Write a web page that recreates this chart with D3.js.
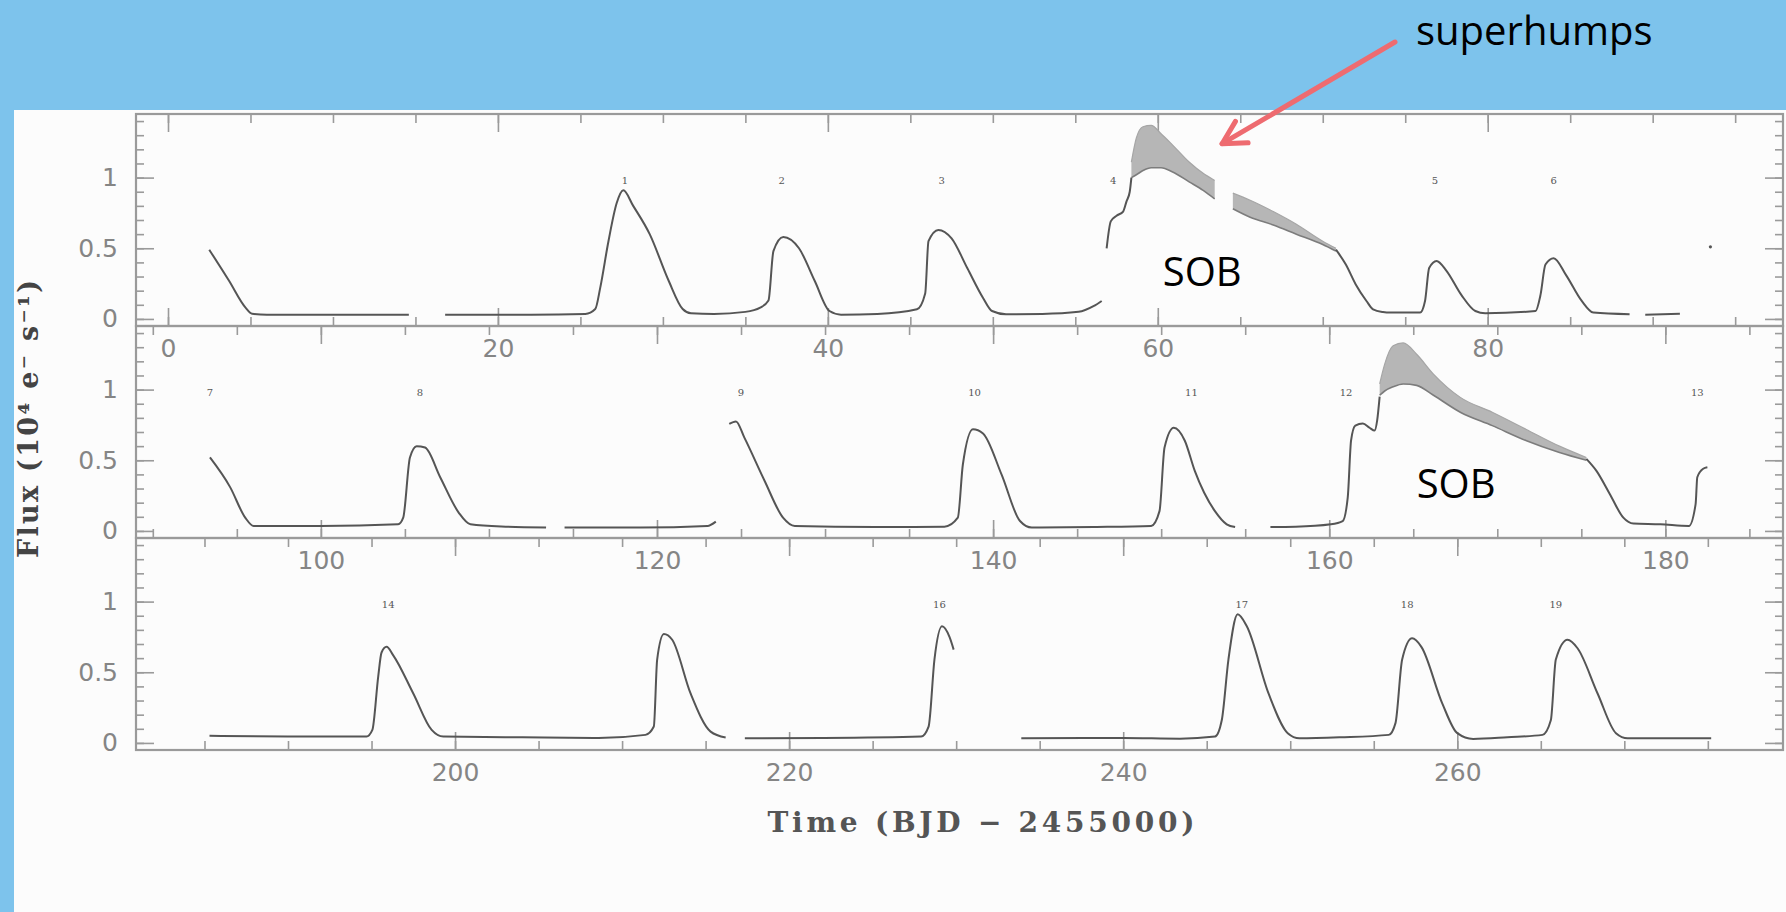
<!DOCTYPE html>
<html>
<head>
<meta charset="utf-8">
<script src="https://cdn.jsdelivr.net/npm/d3@7"></script>
<style>
  body { margin: 0; background: #7dc3ec; }
  svg { display: block; }
</style>
</head>
<body>
<svg id="drawing_region"></svg>
<script>
// ---- data (time in BJD-2455000, flux in 10^4 e/s) ----
const flux_domain = [-0.05, 1.45];
const flux_labels = [0, 0.5, 1];
const panel_time_domains = [[-1.94, 97.9], [89.0, 187.0], [180.9, 279.5]];
const panel_time_labels = [[0, 20, 40, 60, 80], [100, 120, 140, 160, 180], [200, 220, 240, 260]];

const panel1_segments = [
    [[2.5,0.49],[3.7,0.27],[4.7,0.08],[5.1,0.037],[6,0.03],[10,0.03],[14.6,0.03]],
    [[16.8,0.03],[22,0.03],[25.3,0.035],[25.9,0.07],[26.2,0.22],[26.7,0.55],[27.2,0.82],[27.6,0.91],
     [28.2,0.8],[29.2,0.6],[30.35,0.27],[31.2,0.07],[31.7,0.04],[33.1,0.035],[35.0,0.05],[35.9,0.08],
     [36.4,0.13],[36.7,0.48],[37.3,0.58],[38.25,0.5],[39.2,0.27],[40.1,0.056],[40.8,0.03],[43,0.035],
     [45.4,0.068],[45.9,0.18],[46.1,0.55],[46.7,0.63],[47.5,0.57],[48.45,0.36],[49.4,0.15],[49.95,0.056],
     [50.8,0.033],[53,0.035],[55.2,0.05],[56.1,0.09],[56.6,0.127]],
    [[56.9,0.5],[57.15,0.69],[57.5,0.73],[57.9,0.76],[58.1,0.83],[58.3,0.9],[58.4,1.0]],
    [[70.8,0.49],[71.4,0.385],[72.0,0.244],[72.65,0.127],[73.05,0.068],[73.65,0.049],[74.1,0.045],
     [75.9,0.045],[76.2,0.127],[76.45,0.36],[76.9,0.41],[77.5,0.34],[78.4,0.17],[79.25,0.056],
     [79.85,0.04],[82.9,0.056],[83.2,0.17],[83.5,0.385],[84.0,0.43],[84.75,0.31],[85.7,0.127],
     [86.4,0.045],[88.6,0.033]],
    [[89.55,0.03],[91.65,0.037]]
];
const panel2_segments = [
    [[93.4,0.52],[94.6,0.31],[95.5,0.094],[96.0,0.035],[100,0.035],[104.6,0.047],[104.9,0.094],
     [105.3,0.52],[105.7,0.6],[106.2,0.59],[107.1,0.38],[108.2,0.13],[108.9,0.047],[111,0.03],[113.4,0.024]],
    [[114.5,0.024],[119,0.024],[123.0,0.035],[123.5,0.066]],
    [[124.3,0.757],[124.7,0.775],[125.2,0.66],[126.4,0.355],[127.5,0.094],[128.2,0.035],[133,0.028],
     [137.1,0.03],[137.9,0.094],[138.2,0.47],[138.8,0.72],[139.4,0.69],[140.5,0.4],[141.6,0.07],
     [142.3,0.024],[146,0.028],[149.4,0.035],[149.9,0.14],[150.2,0.59],[150.75,0.73],[151.4,0.64],
     [152.0,0.425],[153.2,0.14],[153.9,0.047],[154.4,0.028]],
    [[156.5,0.028],[158,0.03],[160.1,0.047],[160.8,0.07],[161.1,0.236],[161.3,0.64],[161.55,0.745],
     [162.0,0.76],[162.4,0.73],[162.7,0.71],[162.85,0.78],[163.0,0.95]],
    [[175.3,0.51],[175.9,0.425],[176.7,0.26],[177.5,0.094],[178.1,0.052],[179.7,0.047],[181.4,0.035],
     [181.8,0.19],[181.9,0.38],[182.25,0.44],[182.5,0.45]]
];
const panel3_segments = [
    [[185.3,0.05],[190,0.045],[194.7,0.045],[195.05,0.092],[195.4,0.47],[195.6,0.64],[195.9,0.68],
     [196.3,0.62],[197.5,0.35],[198.6,0.092],[199.3,0.045],[204,0.04],[208.6,0.035],[211.4,0.057],
     [211.9,0.116],[212.1,0.59],[212.5,0.77],[213.0,0.73],[214.1,0.35],[215.3,0.08],[216.2,0.038]],
    [[217.35,0.033],[222,0.035],[227.9,0.045],[228.35,0.116],[228.7,0.59],[229.15,0.825],[229.6,0.75],[229.85,0.66]],
    [[233.9,0.033],[240,0.035],[243.4,0.03],[245.5,0.045],[245.9,0.16],[246.3,0.59],[246.85,0.91],
     [247.4,0.825],[248.7,0.35],[249.85,0.069],[250.55,0.033],[253,0.04],[255.9,0.057],[256.3,0.14],
     [256.7,0.59],[257.3,0.74],[257.85,0.68],[259.1,0.28],[260.0,0.069],[260.95,0.028],[263,0.04],
     [265.1,0.057],[265.6,0.16],[265.9,0.59],[266.6,0.73],[267.2,0.67],[268.4,0.35],[269.5,0.069],
     [270.2,0.033],[275.2,0.033]]
];

// superhump bands: [time, lower envelope, upper envelope]
const panel1_bands = [
    [[58.4,1.0,1.11],[58.7,1.02,1.28],[59.1,1.05,1.36],[59.6,1.07,1.37],[60.2,1.07,1.31],
     [60.9,1.04,1.23],[61.9,0.97,1.11],[62.75,0.91,1.03],[63.45,0.85,0.98]],
    [[64.55,0.78,0.89],[65.6,0.72,0.84],[67.0,0.665,0.76],[68.4,0.6,0.67],[70.0,0.526,0.55],[70.8,0.48,0.5]]
];
const panel2_bands = [
    [[163.0,0.96,1.04],[163.3,0.99,1.18],[163.8,1.02,1.31],[164.4,1.04,1.33],[165.2,1.03,1.25],
     [166.2,0.96,1.11],[167.8,0.84,0.945],[169.7,0.745,0.84],[171.7,0.64,0.72],[173.7,0.555,0.6],[175.3,0.5,0.52]]
];
const panel1_dots = [[93.5, 0.51]];

// outburst numbers [label, time]
const panel1_numbers = [['1',27.7],['2',37.2],['3',46.9],['4',57.3],['5',76.8],['6',84.0]];
const panel2_numbers = [['7',93.4],['8',105.9],['9',125.0],['10',138.9],['11',151.8],['12',161.0],['13',181.9]];
const panel3_numbers = [['14',196.0],['16',229.0],['17',247.1],['18',257.0],['19',265.9]];

// annotations: [panel index, time, flux, text]
const sob_labels = [[0, 60.3, 0.23, 'SOB'], [1, 165.2, 0.23, 'SOB']];
const arrow_target = [0, 63.9, 1.24];

// ---- drawing ----
const W = 1786, H = 912;
const frame = { left: 136, right: 1783, top: 114, panelH: 212 };
const gray = '#9a9a9a';

const svg = d3.select('#drawing_region')
    .attr('width', W)
    .attr('height', H);

svg.append('rect')
    .attr('x', 14).attr('y', 110)
    .attr('width', W - 14).attr('height', H - 110)
    .attr('fill', '#fcfcfc');

class LightCurvePanel {
    constructor(index, domain, labels) {
        this.index = index;
        this.top = frame.top + index * frame.panelH;
        this.bottom = this.top + frame.panelH;
        this.xscale = d3.scaleLinear().domain(domain).range([frame.left, frame.right]);
        this.yscale = d3.scaleLinear().domain(flux_domain).range([this.bottom, this.top]);
        this.labels = labels;
        this.g = svg.append('g');
    }

    axes() {
        let self = this;
        const [t0, t1] = self.xscale.domain();
        const minor = d3.range(Math.ceil(t0 / 5) * 5, t1, 5);
        const major = d3.range(Math.ceil(t0 / 20) * 20, t1, 20);
        const yminor = d3.range(0, 1.45, 0.1);

        const styleAxis = g => {
            g.select('.domain').remove();
            g.selectAll('line').attr('stroke', gray).attr('stroke-width', 1.6);
            g.selectAll('text')
                .attr('fill', '#858585')
                .attr('font-family', 'DejaVu Sans')
                .attr('font-size', 25);
        };

        // bottom: minor + major (labelled)
        self.g.append('g').attr('transform', `translate(0,${self.bottom})`)
            .call(d3.axisBottom(self.xscale).tickValues(minor).tickSizeInner(-9).tickSizeOuter(0).tickFormat(''))
            .call(styleAxis);
        self.g.append('g').attr('transform', `translate(0,${self.bottom})`)
            .call(d3.axisBottom(self.xscale).tickValues(self.labels).tickSizeInner(-18).tickSizeOuter(0)
                .tickPadding(13).tickFormat(d3.format('d')))
            .call(styleAxis);
        // top
        self.g.append('g').attr('transform', `translate(0,${self.top})`)
            .call(d3.axisTop(self.xscale).tickValues(minor).tickSizeInner(-9).tickSizeOuter(0).tickFormat(''))
            .call(styleAxis);
        self.g.append('g').attr('transform', `translate(0,${self.top})`)
            .call(d3.axisTop(self.xscale).tickValues(major).tickSizeInner(-18).tickSizeOuter(0).tickFormat(''))
            .call(styleAxis);
        // left / right
        self.g.append('g').attr('transform', `translate(${frame.left},0)`)
            .call(d3.axisLeft(self.yscale).tickValues(yminor).tickSizeInner(-8).tickSizeOuter(0).tickFormat(''))
            .call(styleAxis);
        self.g.append('g').attr('transform', `translate(${frame.left},0)`)
            .call(d3.axisLeft(self.yscale).tickValues(flux_labels).tickSizeInner(-18).tickSizeOuter(0)
                .tickPadding(18).tickFormat(d3.format('')))
            .call(styleAxis);
        self.g.append('g').attr('transform', `translate(${frame.right},0)`)
            .call(d3.axisRight(self.yscale).tickValues(yminor).tickSizeInner(-8).tickSizeOuter(0).tickFormat(''))
            .call(styleAxis);
        self.g.append('g').attr('transform', `translate(${frame.right},0)`)
            .call(d3.axisRight(self.yscale).tickValues(flux_labels).tickSizeInner(-18).tickSizeOuter(0).tickFormat(''))
            .call(styleAxis);

        self.g.append('rect')
            .attr('x', frame.left).attr('y', self.top)
            .attr('width', frame.right - frame.left).attr('height', frame.panelH)
            .attr('fill', 'none')
            .attr('stroke', gray)
            .attr('stroke-width', 2.2);
    }

    render(segments, bands, dots, numbers) {
        let self = this;
        const area = d3.area()
            .x(d => self.xscale(d[0]))
            .y0(d => self.yscale(d[1]))
            .y1(d => self.yscale(d[2]))
            .curve(d3.curveMonotoneX);
        const lower = d3.line()
            .x(d => self.xscale(d[0]))
            .y(d => self.yscale(d[1]))
            .curve(d3.curveMonotoneX);
        const upper = d3.line()
            .x(d => self.xscale(d[0]))
            .y(d => self.yscale(d[2]))
            .curve(d3.curveMonotoneX);
        const line = lower;

        self.g.selectAll('path.band')
            .data(bands)
            .enter().append('path')
            .attr('class', 'band')
            .attr('d', area)
            .attr('fill', '#b6b6b6');
        self.g.selectAll('path.band-hi')
            .data(bands)
            .enter().append('path')
            .attr('class', 'band-hi')
            .attr('d', upper)
            .attr('fill', 'none')
            .attr('stroke', '#a6a6a6')
            .attr('stroke-width', 1.2);
        self.g.selectAll('path.band-lo')
            .data(bands)
            .enter().append('path')
            .attr('class', 'band-lo')
            .attr('d', lower)
            .attr('fill', 'none')
            .attr('stroke', '#7c7c7c')
            .attr('stroke-width', 1.6);

        self.g.selectAll('path.lc')
            .data(segments)
            .enter().append('path')
            .attr('class', 'lc')
            .attr('d', line)
            .attr('fill', 'none')
            .attr('stroke', '#555')
            .attr('stroke-width', 2)
            .attr('stroke-linejoin', 'round');

        self.g.selectAll('circle.dot')
            .data(dots)
            .enter().append('circle')
            .attr('class', 'dot')
            .attr('cx', d => self.xscale(d[0]))
            .attr('cy', d => self.yscale(d[1]))
            .attr('r', 1.6)
            .attr('fill', '#555');

        self.g.selectAll('text.num')
            .data(numbers)
            .enter().append('text')
            .attr('class', 'num')
            .attr('x', d => self.xscale(d[1]))
            .attr('y', self.yscale(0.98))
            .attr('dy', '0.35em')
            .attr('text-anchor', 'middle')
            .attr('font-family', 'DejaVu Serif')
            .attr('font-size', 10)
            .attr('fill', '#555')
            .text(d => d[0]);
    }
}

const panels = panel_time_domains.map((dom, i) => new LightCurvePanel(i, dom, panel_time_labels[i]));
panels.forEach(p => p.axes());
panels[0].render(panel1_segments, panel1_bands, panel1_dots, panel1_numbers);
panels[1].render(panel2_segments, panel2_bands, [], panel2_numbers);
panels[2].render(panel3_segments, [], [], panel3_numbers);

// axis titles
svg.append('text')
    .attr('x', 981).attr('y', 832)
    .attr('text-anchor', 'middle')
    .attr('font-family', 'DejaVu Serif')
    .attr('font-weight', 'bold')
    .attr('font-size', 28)
    .attr('fill', '#555')
    .attr('textLength', 427)
    .attr('lengthAdjust', 'spacing')
    .text('Time (BJD \u2212 2455000)');

svg.append('text')
    .attr('transform', 'translate(38,419) rotate(-90)')
    .attr('text-anchor', 'middle')
    .attr('font-family', 'DejaVu Serif')
    .attr('font-weight', 'bold')
    .attr('font-size', 27)
    .attr('fill', '#444')
    .attr('textLength', 278)
    .attr('lengthAdjust', 'spacing')
    .text('Flux (10\u2074 e\u207B s\u207B\u00B9)');

// annotations
sob_labels.forEach(a => {
    const p = panels[a[0]];
    svg.append('text')
        .attr('x', p.xscale(a[1]))
        .attr('y', p.yscale(a[2]))
        .attr('font-family', 'Open Sans')
        .attr('font-size', 40)
        .attr('fill', '#000')
        .text(a[3]);
});

svg.append('text')
    .attr('x', 1416).attr('y', 45)
    .attr('font-family', 'Open Sans')
    .attr('font-size', 40)
    .attr('fill', '#000')
    .text('superhumps');

const tip = [panels[arrow_target[0]].xscale(arrow_target[1]), panels[arrow_target[0]].yscale(arrow_target[2])];
const tail = [1395, 42];
const ang = Math.atan2(tail[1] - tip[1], tail[0] - tip[0]);
const headLen = 26;
const head = [-0.5, 0.5].map(da => [tip[0] + headLen * Math.cos(ang + da), tip[1] + headLen * Math.sin(ang + da)]);

svg.append('path')
    .attr('d', d3.line()([tail, tip]))
    .attr('stroke', '#ee6b70')
    .attr('stroke-width', 5)
    .attr('stroke-linecap', 'round')
    .attr('fill', 'none');
svg.append('path')
    .attr('d', d3.line()([head[0], tip, head[1]]))
    .attr('stroke', '#ee6b70')
    .attr('stroke-width', 5)
    .attr('stroke-linecap', 'round')
    .attr('stroke-linejoin', 'round')
    .attr('fill', 'none');
</script>
</body>
</html>
